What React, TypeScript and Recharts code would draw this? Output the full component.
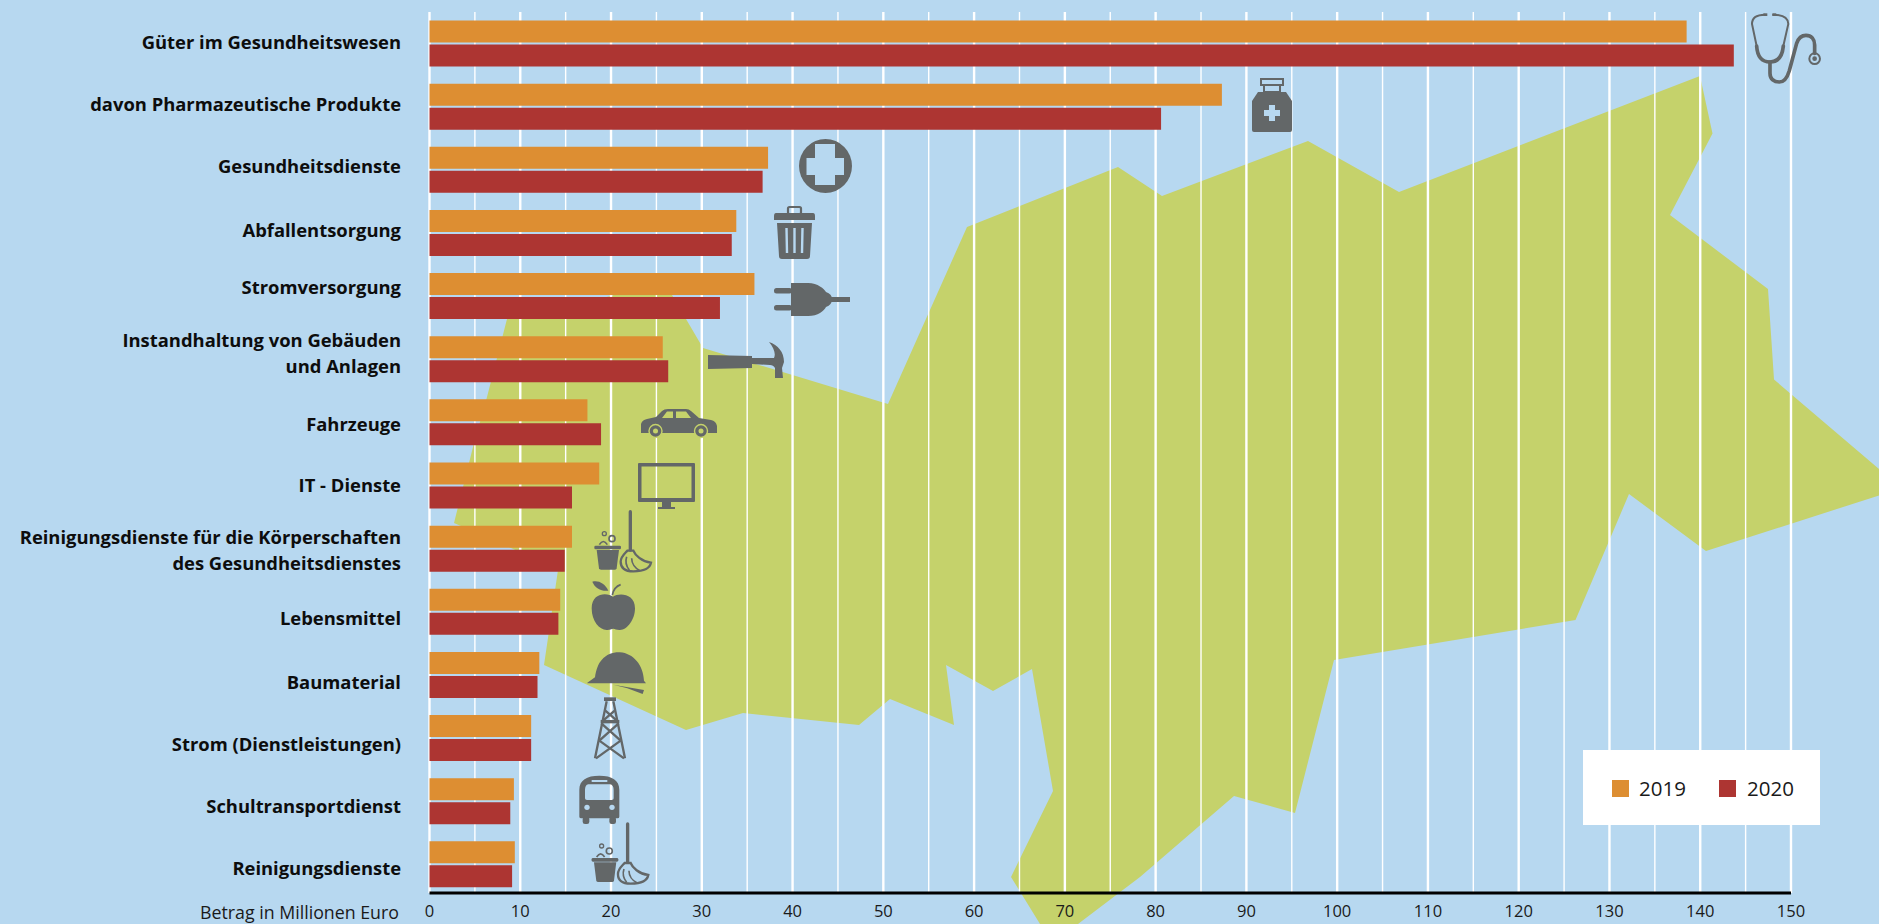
import React from "react";
import { BarChart, Bar, XAxis, YAxis, CartesianGrid, Legend, Label } from "recharts";

const categories = [
  "Güter im Gesundheitswesen",
  "davon Pharmazeutische Produkte",
  "Gesundheitsdienste",
  "Abfallentsorgung",
  "Stromversorgung",
  "Instandhaltung von Gebäuden|und Anlagen",
  "Fahrzeuge",
  "IT - Dienste",
  "Reinigungsdienste für die Körperschaften|des Gesundheitsdienstes",
  "Lebensmittel",
  "Baumaterial",
  "Strom (Dienstleistungen)",
  "Schultransportdienst",
  "Reinigungsdienste",
];
const values2019 = [138.5, 87.3, 37.3, 33.8, 35.8, 25.7, 17.4, 18.7, 15.7, 14.4, 12.1, 11.2, 9.3, 9.4];
const values2020 = [143.7, 80.6, 36.7, 33.3, 32.0, 26.3, 18.9, 15.7, 14.9, 14.2, 11.9, 11.2, 8.9, 9.1];
const majorTicks = [0, 10, 20, 30, 40, 50, 60, 70, 80, 90, 100, 110, 120, 130, 140, 150];
const minorTicks = [5, 15, 25, 35, 45, 55, 65, 75, 85, 95, 105, 115, 125, 135, 145];
const axisTitle = "Betrag in Millionen Euro";
const labelNudge = [-1, -2, -3, -3, -9, -6, 2, 0, 2, 7, 7, 6, 5, 4];

const rows = categories.map((category, i) => ({
  category,
  y2019: values2019[i],
  y2020: values2020[i],
}));

const BG = "#b7d8f0";
const GREEN = "#c5d26b";
const ORANGE = "#dd8e32";
const RED = "#ad3532";
const ICON = "#636768";
const FONT = "'Open Sans', sans-serif";

const mapOutline = [
  [888, 404], [967, 227], [1118, 167], [1162, 196], [1308, 141], [1399, 192], [1700, 76], [1712.5, 133.5],
  [1670, 215], [1768, 289], [1774, 379.5], [1879, 469], [1879, 495.5], [1706, 551], [1629, 494], [1575.5, 620],
  [1334, 660], [1295, 813], [1234, 796], [1140, 877], [1078, 924], [1040, 924], [1011, 877], [1053, 791],
  [1032, 669], [993, 691], [946, 665], [954, 725], [890, 699], [859, 725], [743, 713], [686, 730], [544, 665],
  [558, 570], [511, 548], [454, 523], [473, 447], [487, 397], [507, 319], [611, 296], [640, 285], [672, 295],
  [686, 319], [703, 348],
];

function CategoryTick(props: any) {
  const { y, index, payload } = props;
  const lines: string[] = String(payload.value).split("|");
  const cy = y + (labelNudge[index] ?? 0);
  const start = cy - ((lines.length - 1) * 26) / 2 + 7;
  return (
    <text textAnchor="end" fontFamily={FONT} fontWeight={700} fontSize={18.4} fill="#0d0d0d">
      {lines.map((l, i) => (
        <tspan key={i} x={401} y={start + i * 26}>{l}</tspan>
      ))}
    </text>
  );
}

function LegendBox(props: any) {
  const items = props.payload || [];
  return (
    <div style={{ width: 237, height: 75, background: "#fff", position: "relative", fontFamily: FONT, fontSize: 20.5, color: "#1a1a1a" }}>
      {items.map((it: any, i: number) => (
        <div key={i} style={{ position: "absolute", left: 29 + i * 107, top: 30, width: 17, height: 17, background: it.color }} />
      ))}
      {items.map((it: any, i: number) => (
        <div key={"t" + i} style={{ position: "absolute", left: 56 + i * 108, top: 23, lineHeight: "30px" }}>{it.value}</div>
      ))}
    </div>
  );
}

function MopBucket({ x, y }: { x: number; y: number }) {
  return (
    <g transform={`translate(${x},${y}) scale(0.3333)`}>
      <rect x={73} y={137} width={80} height={11} rx={4} fill={ICON} />
      <path d="M80 150 H147 L140 205 Q139 209 135 209 H93 Q88 209 87 205 Z" fill={ICON} />
      <circle cx={103} cy={101} r={6} fill="none" stroke={ICON} strokeWidth={4} />
      <circle cx={126} cy={116} r={9} fill="none" stroke={ICON} strokeWidth={5} />
      <path d="M88 134 Q100 115 112 134" fill="none" stroke={ICON} strokeWidth={5} />
      <path d="M181 35 V150" stroke={ICON} strokeWidth={10} strokeLinecap="round" />
      <path d="M172 152 H190 C195 165 215 185 243 188 C240 205 225 214 190 214 C165 214 152 205 152 185 C152 170 165 160 172 152 Z" fill="none" stroke={ICON} strokeWidth={7} />
      <path d="M170 170 C165 185 170 200 178 210 M185 175 C185 190 195 205 210 212" fill="none" stroke={ICON} strokeWidth={5} />
    </g>
  );
}

function Icons() {
  return (
    <svg width={1879} height={924} style={{ position: "absolute", left: 0, top: 0, pointerEvents: "none" }}>
      {/* stethoscope */}
      <g transform="translate(1600,0) scale(0.3333)" fill="none" stroke={ICON} strokeLinecap="round">
        <path d="M495 44 C470 44 456 52 456 72 L470 138 M520 44 C545 44 565 52 565 72 L550 138" strokeWidth={6} />
        <path d="M470 138 C472 170 485 186 510 186 C535 186 547 170 550 138" strokeWidth={11} />
        <path d="M510 186 L510 220 C510 238 522 246 538 246 C554 246 562 232 568 212 L590 130 C596 112 604 106 618 106 C634 106 644 118 644 135 L644 160" strokeWidth={11} />
        <circle cx={644} cy={176} r={16} strokeWidth={6} />
        <circle cx={644} cy={176} r={7} fill={ICON} stroke="none" />
        <rect x={490} y={40} width={12} height={8} fill={ICON} stroke="none" />
        <rect x={517} y={40} width={12} height={8} fill={ICON} stroke="none" />
      </g>
      {/* bottle */}
      <g transform="translate(1252,78)">
        <rect x={9} y={1} width={22} height={6} fill="none" stroke={ICON} strokeWidth={2} />
        <rect x={12} y={7} width={16} height={7} fill="none" stroke={ICON} strokeWidth={2} />
        <path d="M6 14 L34 14 L40 23 L40 52 Q40 54 38 54 L2 54 Q0 54 0 52 L0 23 Z" fill={ICON} />
        <path d="M17 27 H23 V32 H28 V38 H23 V43 H17 V38 H12 V32 H17 Z" fill={BG} />
      </g>
      {/* medical cross */}
      <g>
        <ellipse cx={825.5} cy={166} rx={26.5} ry={27} fill={ICON} />
        <path d="M815 144 H835 V158 H844 V175 H835 V185 H815 V175 H806.5 V158 H815 Z" fill={BG} />
      </g>
      {/* trash can */}
      <g transform="translate(774,206)">
        <rect x={14} y={1} width={13} height={7} rx={1.5} fill="none" stroke={ICON} strokeWidth={2.2} />
        <path d="M2 7 H39 Q41 7 41 10 V14 H0 V10 Q0 7 2 7 Z" fill={ICON} />
        <path d="M3 17 H38 L36 50 Q36 53 33 53 H8 Q5 53 5 50 Z" fill={ICON} />
        <path d="M12.5 22 L13 47 M20.5 22 V47 M28.5 22 L28 47" stroke={BG} strokeWidth={2.4} />
      </g>
      {/* plug */}
      <g transform="translate(774,283)" fill={ICON}>
        <rect x={0} y={5} width={18} height={5.5} rx={2.5} />
        <rect x={0} y={22} width={18} height={5.5} rx={2.5} />
        <path d="M17 0 H34 C44 0 50 6 52 9 Q58 11 58 16 Q58 22 52 24 C50 28 44 33 34 33 H17 Z" />
        <rect x={56} y={14} width={20} height={5} />
      </g>
      {/* hammer */}
      <path transform="translate(708,342)" d="M61 0 C70 3 76 10 76 20 L74 26 L75 36 H67 L67 26 C66 24 64 23 62 23 L44 22 L44 26 L0 27 L0 13 L44 14 L44 16 L66 16 C68 12 66 6 61 0 Z" fill={ICON} />
      {/* car */}
      <g transform="translate(641,409)">
        <path fillRule="evenodd" d="M0 24 L0 15 Q1 11 6 10 L15 8 L21 2 Q23 0 27 0 H45 Q48 0 50 2 L58 9 L70 11 Q75 12 76 17 L76 24 Z M21 9 H32 V2.5 H26 Z M35 9 H50 L45 2.5 H35 Z" fill={ICON} />
        <circle cx={14.5} cy={22} r={6.5} fill={ICON} stroke={GREEN} strokeWidth={1.4} />
        <circle cx={14.5} cy={22} r={2.5} fill={GREEN} />
        <circle cx={60} cy={22} r={6.5} fill={ICON} stroke={GREEN} strokeWidth={1.4} />
        <circle cx={60} cy={22} r={2.5} fill={GREEN} />
      </g>
      {/* monitor */}
      <g transform="translate(638,463)" fill={ICON}>
        <path fillRule="evenodd" d="M1 0 H56 Q57 0 57 1 V38 Q57 39 56 39 H1 Q0 39 0 38 V1 Q0 0 1 0 Z M3.5 3.5 V35 H53.5 V3.5 Z" />
        <rect x={24} y={39} width={9} height={5} />
        <rect x={20} y={44} width={17} height={2} />
      </g>
      <MopBucket x={570} y={500} />
      {/* apple */}
      <g transform="translate(570,500) scale(0.3333)" fill={ICON}>
        <path d="M67 245 C85 240 105 250 115 272 C95 275 75 265 67 245Z" />
        <path d="M127 285 C130 270 140 258 152 254" fill="none" stroke={ICON} strokeWidth={5} />
        <path d="M129 290 C115 278 65 275 65 325 C65 365 90 392 112 390 C120 390 125 386 130 386 C135 386 140 390 148 390 C170 392 195 360 195 325 C195 278 145 278 129 290Z" />
        {/* helmet */}
        <path d="M52 548 L75 532 C78 510 85 490 95 480 C110 462 130 456 150 457 C190 460 220 495 222 542 L228 550 L52 550 Z" />
        <path d="M130 554 L222 570 L218 582 L172 565 Z" />
      </g>
      {/* derrick */}
      <g transform="translate(560,690) scale(0.3333)" fill="none" stroke={ICON} strokeWidth={7}>
        <rect x={132} y={22} width={36} height={11} fill={ICON} stroke="none" />
        <rect x={122} y={90} width={56} height={10} fill={ICON} stroke="none" />
        <path d="M140 34 L105 205 M160 34 L195 205" />
        <path d="M136 62 L168 90 M164 62 L132 90 M124 100 L182 152 M176 100 L118 152 M118 152 L192 205 M182 152 L108 205" />
      </g>
      {/* bus */}
      <g transform="translate(560,690) scale(0.3333)" fill={ICON}>
        <path fillRule="evenodd" d="M58 380 V300 C58 270 80 257 118 257 C156 257 178 270 178 300 V380 Q178 385 172 385 H64 Q58 385 58 380Z M75 300 V325 Q75 330 81 330 H155 Q161 330 161 325 V300 Q161 285 150 283 H85 Q75 285 75 300Z M95 270 V276 H142 V270Z" />
        <circle cx={81} cy={352} r={8} fill={BG} />
        <circle cx={156} cy={352} r={8} fill={BG} />
        <rect x={68} y={380} width={20} height={22} rx={7} />
        <rect x={148} y={380} width={20} height={22} rx={7} />
      </g>
      <MopBucket x={567.3} y={812.3} />
    </svg>
  );
}

export default function App() {
  return (
    <div style={{ position: "absolute", left: 0, top: 0, width: 1879, height: 924, background: BG, overflow: "hidden" }}>
      <svg width={1879} height={924} style={{ position: "absolute", left: 0, top: 0 }}>
        <polygon points={mapOutline.map((p) => p.join(",")).join(" ")} fill={GREEN} />
      </svg>
      <div style={{ position: "absolute", left: 0, top: 0 }}>
        <BarChart
          width={1879}
          height={924}
          data={rows}
          layout="vertical"
          margin={{ top: 12, right: 88, bottom: 0, left: 0 }}
          barSize={22}
          barGap={2}
        >
          <CartesianGrid horizontal={false} verticalValues={majorTicks} stroke="#ffffff" strokeWidth={2.4} />
          <CartesianGrid horizontal={false} verticalValues={minorTicks} stroke="#ffffff" strokeWidth={1.4} />
          <XAxis
            type="number"
            domain={[0, 150]}
            ticks={majorTicks}
            interval={0}
            height={31}
            axisLine={{ stroke: "#000", strokeWidth: 3 }}
            tickLine={false}
            tickSize={0}
            tickMargin={12}
            tick={{ fontFamily: FONT, fontSize: 16.5, fill: "#1a1a1a" }}
          >
            <Label
              content={() => (
                <text x={399} y={919} textAnchor="end" fontFamily={FONT} fontSize={17.8} fill="#1a1a1a">
                  {axisTitle}
                </text>
              )}
            />
          </XAxis>
          <YAxis
            type="category"
            dataKey="category"
            width={429.5}
            interval={0}
            axisLine={false}
            tickLine={false}
            padding={{ top: -0.5, bottom: -2.5 }}
            tick={<CategoryTick />}
          />
          <Legend
            layout="vertical"
            align="center"
            verticalAlign="middle"
            content={<LegendBox />}
            wrapperStyle={{ left: 1583, top: 750, width: 237, height: 75 }}
          />
          <Bar dataKey="y2019" name="2019" fill={ORANGE} isAnimationActive={false} />
          <Bar dataKey="y2020" name="2020" fill={RED} isAnimationActive={false} />
        </BarChart>
      </div>
      <Icons />
    </div>
  );
}
